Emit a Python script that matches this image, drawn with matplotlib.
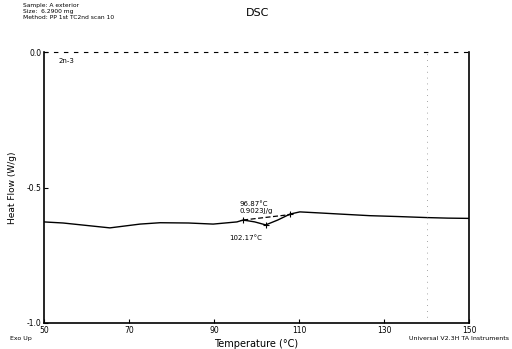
import matplotlib
matplotlib.use("Agg")
import matplotlib.pyplot as plt

temps = [50, 54.5, 60, 65.5, 72.6, 77.3, 84, 89.8, 95.4, 96.87, 99.6, 102.17, 105, 107.9, 110.2, 115, 119.6, 126.7, 133, 140.1, 145, 150]
heat_flow = [-0.627, -0.631, -0.640, -0.649, -0.635, -0.630, -0.631, -0.635, -0.627, -0.620, -0.627, -0.638, -0.620, -0.598, -0.590, -0.594, -0.598, -0.604, -0.607, -0.611, -0.613, -0.614]
dash_t = [96.87, 107.9]
dash_h = [-0.620, -0.600]
x_ticks = [50, 70, 90, 110, 130, 150]
y_ticks = [0.0, -0.5, -1.0]
y_tick_labels = ["0.0", "-0.5", "-1.0"]
marker_t = [96.87, 102.17, 107.9]
marker_h = [-0.620, -0.638, -0.598]

fig = plt.figure(figsize=(5.12, 3.49), dpi=100)
ax = fig.add_axes([44/512, 1-323/349, (469-44)/512, (323-52)/349])

ax.plot(temps, heat_flow, color="black", lw=1.0)
ax.plot(dash_t, dash_h, color="black", lw=0.9, ls=(0, (4, 2)))
ax.plot(marker_t, marker_h, ls="none", marker="+", color="black", ms=5, mew=0.8)
ax.axvline(140, color="#888888", lw=0.6, ls=(0, (1, 6)))

ax.set_xlim(50, 150)
ax.set_ylim(-1.0, 0.0)
ax.set_xticks(x_ticks)
ax.set_xticklabels([str(t) for t in x_ticks])
ax.set_yticks(y_ticks)
ax.set_yticklabels(y_tick_labels)
ax.tick_params(direction="in", length=3, width=0.8, labelsize=5.5, pad=2)
ax.spines["top"].set_linestyle((0, (3, 6)))
ax.spines["top"].set_linewidth(0.8)
for s in ["left", "right", "bottom"]:
    ax.spines[s].set_linewidth(1.2)

ax.set_xlabel("Temperature (°C)", fontsize=7, labelpad=3)
ax.set_ylabel("Heat Flow (W/g)", fontsize=6.5, labelpad=7)

ax.text(96.0, -0.560, "96.87°C", fontsize=5, ha="left", va="center")
ax.text(96.0, -0.585, "0.9023J/g", fontsize=5, ha="left", va="center")
ax.text(93.5, -0.685, "102.17°C", fontsize=5, ha="left", va="center")
ax.text(53.5, -0.035, "2n-3", fontsize=5, ha="left", va="center")

fig.text(0.045, 0.984, "Sample: A exterior", fontsize=4.3, ha="left", va="center")
fig.text(0.045, 0.967, "Size:  6.2900 mg", fontsize=4.3, ha="left", va="center")
fig.text(0.045, 0.950, "Method: PP 1st TC2nd scan 10", fontsize=4.3, ha="left", va="center")
fig.text(0.504, 0.963, "DSC", fontsize=8, ha="center", va="center")
fig.text(0.02, 0.030, "Exo Up", fontsize=4.5, ha="left", va="center")
fig.text(0.995, 0.030, "Universal V2.3H TA Instruments", fontsize=4.5, ha="right", va="center")

fig.savefig("out.png", dpi=100)
